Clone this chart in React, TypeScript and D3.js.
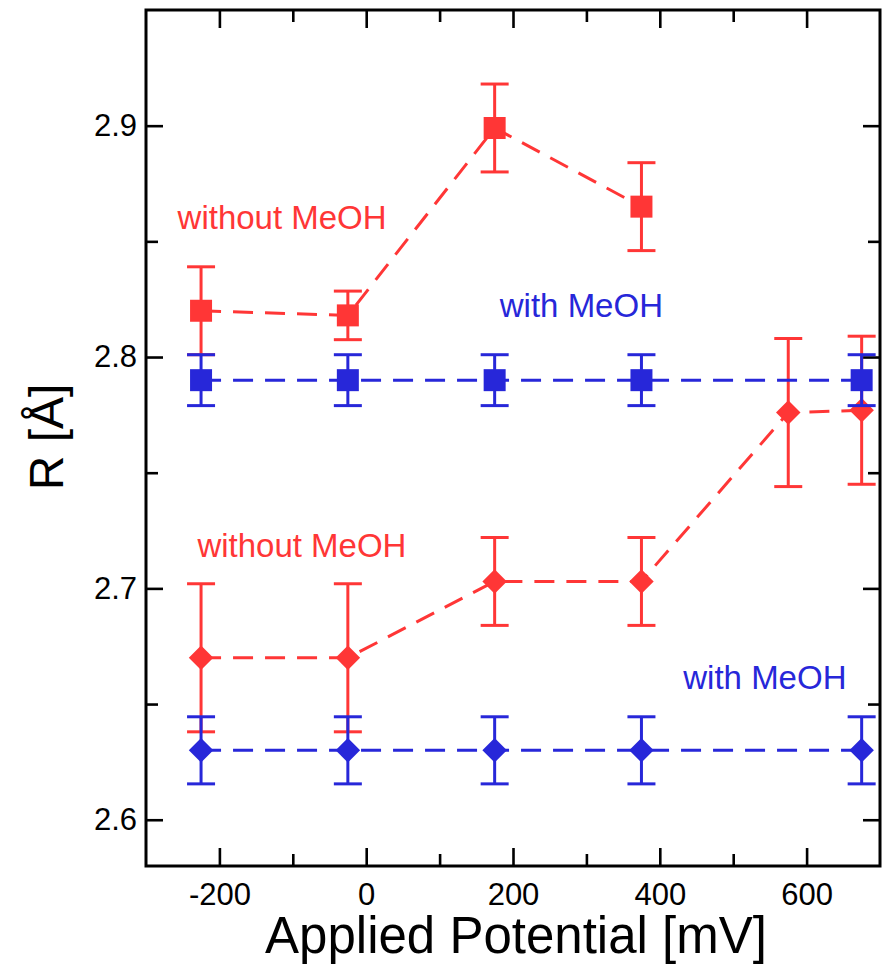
import { useEffect, useRef } from 'react'
import { select, scaleLinear, axisBottom, axisLeft, axisTop, axisRight, line, symbol, symbolSquare } from 'd3'

// applied potential [mV] for each measurement
const potentials = [-225, -25, 175, 375, 575, 675]

// without MeOH, squares
const redSquareX = [-225, -25, 175, 375]
const redSquareR = [2.82, 2.818, 2.899, 2.865]
const redSquareErr = [0.019, 0.0105, 0.019, 0.019]

// with MeOH, squares
const blueSquareX = [-225, -25, 175, 375, 675]
const blueSquareR = [2.79, 2.79, 2.79, 2.79, 2.79]
const blueSquareErr = [0.011, 0.011, 0.011, 0.011, 0.011]

// without MeOH, diamonds
const redDiamondX = potentials
const redDiamondR = [2.67, 2.67, 2.703, 2.703, 2.776, 2.777]
const redDiamondErr = [0.032, 0.032, 0.019, 0.019, 0.032, 0.032]

// with MeOH, diamonds
const blueDiamondX = [-225, -25, 175, 375, 675]
const blueDiamondR = [2.63, 2.63, 2.63, 2.63, 2.63]
const blueDiamondErr = [0.0145, 0.0145, 0.0145, 0.0145, 0.0145]

const xMajor = [-200, 0, 200, 400, 600]
const xMinor = [-100, 100, 300, 500]
const yMajor = [2.6, 2.7, 2.8, 2.9]
const yMinor = [2.65, 2.75, 2.85]

const labels = [
  { text: 'without MeOH', x: -257, y: 2.8555, color: 'red' },
  { text: 'with MeOH', x: 182, y: 2.8173, color: 'blue' },
  { text: 'without MeOH', x: -230, y: 2.7135, color: 'red' },
  { text: 'with MeOH', x: 432, y: 2.6563, color: 'blue' },
]

const RED = '#ff3636'
const BLUE = '#2727d9'
const FONT = '"Liberation Sans", Arial, Helvetica, sans-serif'

function App() {
  const svg_ref = useRef<SVGSVGElement>(null)
  const width = 884,
        height = 966
  const frame = { left: 146, top: 10, right: 880, bottom: 866 }

  useEffect(() => {
    const svg = select(svg_ref.current)
    svg.selectAll('*').remove()

    const x = scaleLinear([-300, 700], [frame.left, frame.right])
    const y = scaleLinear([2.58, 2.95], [frame.bottom, frame.top])

    const styleAxis = (g: any) => {
      g.select('.domain').remove()
      g.selectAll('line').attr('stroke', '#000').attr('stroke-width', 2.6)
      g.selectAll('text').attr('fill', '#000').style('font-family', FONT).style('font-size', '31px')
    }

    // bottom
    svg.append('g').attr('transform', `translate(0,${frame.bottom})`)
      .call(axisBottom(x).tickValues(xMajor).tickSize(-18).tickPadding(17).tickFormat(d => String(d)))
      .call(styleAxis)
    svg.append('g').attr('transform', `translate(0,${frame.bottom})`)
      .call(axisBottom(x).tickValues(xMinor).tickSize(-12).tickFormat(() => ''))
      .call(styleAxis)
    // top
    svg.append('g').attr('transform', `translate(0,${frame.top})`)
      .call(axisTop(x).tickValues(xMajor).tickSize(-18).tickFormat(() => ''))
      .call(styleAxis)
    svg.append('g').attr('transform', `translate(0,${frame.top})`)
      .call(axisTop(x).tickValues(xMinor).tickSize(-12).tickFormat(() => ''))
      .call(styleAxis)
    // left
    svg.append('g').attr('transform', `translate(${frame.left},0)`)
      .call(axisLeft(y).tickValues(yMajor).tickSize(-17).tickPadding(9).tickFormat(d => (+d).toFixed(1)))
      .call(styleAxis)
    svg.append('g').attr('transform', `translate(${frame.left},0)`)
      .call(axisLeft(y).tickValues(yMinor).tickSize(-12).tickFormat(() => ''))
      .call(styleAxis)
    // right
    svg.append('g').attr('transform', `translate(${frame.right},0)`)
      .call(axisRight(y).tickValues(yMajor).tickSize(-17).tickFormat(() => ''))
      .call(styleAxis)
    svg.append('g').attr('transform', `translate(${frame.right},0)`)
      .call(axisRight(y).tickValues(yMinor).tickSize(-12).tickFormat(() => ''))
      .call(styleAxis)

    svg.append('rect')
      .attr('x', frame.left).attr('y', frame.top)
      .attr('width', frame.right - frame.left).attr('height', frame.bottom - frame.top)
      .attr('fill', 'none').attr('stroke', '#000').attr('stroke-width', 3)

    const series = [
      { xs: redSquareX, rs: redSquareR, es: redSquareErr, color: RED, shape: 'square' },
      { xs: redDiamondX, rs: redDiamondR, es: redDiamondErr, color: RED, shape: 'diamond' },
      { xs: blueSquareX, rs: blueSquareR, es: blueSquareErr, color: BLUE, shape: 'square' },
      { xs: blueDiamondX, rs: blueDiamondR, es: blueDiamondErr, color: BLUE, shape: 'diamond' },
    ]

    series.forEach(s => {
      const pts = s.xs.map((p, i) => ({ p, r: s.rs[i], e: s.es[i] }))
      const g = svg.append('g')

      g.append('path')
        .datum(pts)
        .attr('fill', 'none')
        .attr('stroke', s.color)
        .attr('stroke-width', 3)
        .attr('stroke-dasharray', '20,12')
        .attr('d', line<any>().x(d => x(d.p)).y(d => y(d.r)))

      const bars = g.selectAll('g.err').data(pts).join('g')
        .attr('stroke', s.color).attr('stroke-width', 3)
      bars.append('line')
        .attr('x1', d => x(d.p)).attr('x2', d => x(d.p))
        .attr('y1', d => y(d.r - d.e)).attr('y2', d => y(d.r + d.e))
      bars.append('line')
        .attr('x1', d => x(d.p) - 14).attr('x2', d => x(d.p) + 14)
        .attr('y1', d => y(d.r + d.e)).attr('y2', d => y(d.r + d.e))
      bars.append('line')
        .attr('x1', d => x(d.p) - 14).attr('x2', d => x(d.p) + 14)
        .attr('y1', d => y(d.r - d.e)).attr('y2', d => y(d.r - d.e))

      const sym = symbol(symbolSquare, s.shape === 'square' ? 484 : 300)
      g.selectAll('path.mark').data(pts).join('path')
        .attr('class', 'mark')
        .attr('fill', s.color)
        .attr('d', sym)
        .attr('transform', d => `translate(${x(d.p)},${y(d.r)})` + (s.shape === 'diamond' ? ' rotate(45)' : ''))
    })

    svg.selectAll('text.note').data(labels).join('text')
      .attr('class', 'note')
      .attr('x', d => x(d.x))
      .attr('y', d => y(d.y))
      .attr('fill', d => d.color === 'red' ? RED : BLUE)
      .style('font-family', FONT)
      .style('font-size', '33px')
      .text(d => d.text)

    svg.append('text')
      .attr('x', (frame.left + frame.right) / 2 + 3)
      .attr('y', 953)
      .attr('text-anchor', 'middle')
      .style('font-family', FONT)
      .style('font-size', '51px')
      .text('Applied Potential [mV]')

    svg.append('text')
      .attr('transform', `translate(63,437) rotate(-90)`)
      .attr('text-anchor', 'middle')
      .style('font-family', FONT)
      .style('font-size', '48px')
      .text('R [Å]')
  }, [])

  return (
    <svg ref={svg_ref} width={width} height={height} viewBox={`0 0 ${width} ${height}`}
      style={{ position: 'absolute', left: 0, top: 0, background: '#fff' }} />
  )
}

export default App
